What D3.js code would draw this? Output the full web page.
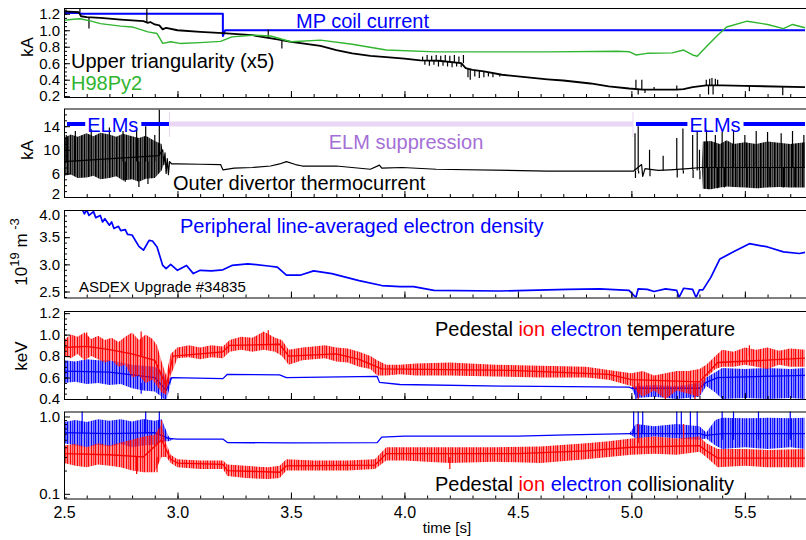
<!DOCTYPE html>
<html lang="en">
  <head>
    <meta charset="utf-8">
    <title>ASDEX Upgrade #34835</title>
    <style>
      body { margin: 0; background: #fff; }
      svg { display: block; font-family: "Liberation Sans", Arial, sans-serif; }
      .frame { fill: none; stroke: #000; stroke-width: 1; }
      .tick line { stroke: #000; }
      .tick text { font-size: 15px; fill: #000; }
      .note { font-size: 20px; }
      .trace { fill: none; stroke-linejoin: round; }
    </style>
  </head>
  <body>
    <svg id="chart" width="806" height="540"></svg>
    <script src="https://d3js.org/d3.v7.min.js"></script>
    <script>
      // ---- data ----
      // lines: [time s, value]; bands (noise envelope): [time s, low, high]; spikes: [time s, from, to]
      const mpCoil = [[2.5,1.21],[2.57,1.21],[2.575,1.2],[3.2,1.2],[3.2,0.93],[3.21,1.0],[5.765,1.0]];

      const triang = [[2.5,1.23],[2.565,1.22],[2.575,1.17],[2.6,1.16],[2.66,1.15],[2.7,1.14],[2.75,1.13],[2.8,1.12],
        [2.85,1.11],[2.87,1.09],[2.88,1.1],[2.9,1.07],[2.92,1.06],[2.935,1.01],[2.95,1.03],[3.0,1.0],[3.1,0.98],
        [3.2,0.965],[3.28,0.95],[3.33,0.94],[3.44,0.89],[3.5,0.86],[3.55,0.84],[3.63,0.81],[3.7,0.76],[3.77,0.72],
        [3.85,0.69],[3.92,0.675],[4.0,0.655],[4.07,0.635],[4.15,0.63],[4.25,0.6],[4.27,0.54],[4.3,0.52],[4.35,0.5],
        [4.43,0.46],[4.5,0.44],[4.63,0.405],[4.7,0.39],[4.82,0.354],[4.9,0.32],[4.99,0.293],[5.05,0.28],[5.2,0.28],
        [5.23,0.285],[5.27,0.31],[5.33,0.33],[5.4,0.33],[5.5,0.325],[5.765,0.31]];
      const triangSpikes = [[2.57,1.22,1.29],[2.61,1.16,1.02],[2.865,1.1,1.29],[3.4,0.91,1.01],[3.46,0.88,0.78],
        [4.08,0.63,0.68],[4.09,0.63,0.58],[4.1,0.63,0.7],[4.11,0.63,0.57],[4.12,0.63,0.69],[4.13,0.63,0.58],
        [4.14,0.63,0.7],[4.15,0.63,0.56],[4.16,0.63,0.69],[4.17,0.63,0.57],[4.18,0.62,0.7],[4.19,0.62,0.56],
        [4.2,0.62,0.69],[4.21,0.61,0.55],[4.22,0.61,0.7],[4.23,0.61,0.56],[4.24,0.6,0.68],[4.25,0.6,0.55],
        [4.26,0.6,0.7],[4.28,0.53,0.43],[4.29,0.53,0.4],[4.31,0.52,0.44],[4.33,0.51,0.42],[4.35,0.5,0.43],
        [4.37,0.49,0.44],[4.39,0.48,0.43],[4.42,0.47,0.44],[5.02,0.29,0.4],[5.03,0.29,0.22],[5.046,0.28,0.4],
        [5.06,0.28,0.24],[5.1,0.28,0.31],[5.2,0.28,0.33],[5.33,0.33,0.4],[5.34,0.33,0.22],[5.345,0.33,0.41],
        [5.355,0.33,0.42],[5.36,0.33,0.22],[5.37,0.33,0.41],[5.38,0.33,0.4],[5.52,0.325,0.26],[5.667,0.32,0.21]];

      const h98 = [[2.5,1.12],[2.53,1.13],[2.57,1.14],[2.62,1.11],[2.66,1.08],[2.75,1.05],[2.8,1.04],[2.87,0.98],
        [2.91,0.96],[2.935,0.84],[2.97,0.86],[3.01,0.84],[3.1,0.85],[3.19,0.865],[3.24,0.92],[3.33,0.94],[3.41,0.93],
        [3.5,0.86],[3.63,0.88],[3.77,0.83],[3.92,0.76],[4.14,0.737],[4.63,0.737],[4.94,0.745],[4.99,0.74],[5.02,0.7],
        [5.07,0.72],[5.18,0.725],[5.23,0.76],[5.27,0.7],[5.29,0.685],[5.33,0.8],[5.38,0.94],[5.42,1.04],[5.51,1.11],
        [5.6,1.07],[5.67,1.02],[5.71,1.07],[5.765,1.03]];

      const divBand = [[2.5,5.6,12],[2.53,5.8,12.6],[2.56,5.2,12.2],[2.6,5.3,12.8],[2.63,5.6,12.3],[2.66,5.0,12.9],
        [2.7,5.2,12.6],[2.73,5.5,12.2],[2.76,4.8,12.7],[2.8,5.0,12.3],[2.83,4.6,12.0],[2.86,5.1,12.4],[2.9,5.2,11.5],
        [2.93,6.5,11],[2.94,7.6,7.6],[5.31,7,7],[5.315,3.4,11.4],[5.35,3.3,11.5],[5.39,3.6,11],[5.42,3.8,11.6],
        [5.45,3.7,11],[5.5,3.6,11.3],[5.55,3.5,11],[5.6,3.6,11.4],[5.65,3.7,11.2],[5.7,3.6,11],[5.765,3.6,11.3]];
      const divCurrent = [[2.5,8],[2.918,9],[2.935,10],[2.94,7.5],[2.945,9.5],[2.95,6],[2.955,8.5],[2.96,5.8],
        [2.965,8],[2.975,7.6],[3.0,7.6],[3.1,7.55],[3.19,7.5],[3.2,6.6],[3.25,6.9],[3.33,7.0],[3.41,7.25],[3.45,7.6],
        [3.48,8.0],[3.52,7.5],[3.55,7.25],[3.7,7.25],[3.85,6.7],[3.89,7.4],[3.9,6.9],[3.99,7.0],[4.14,6.7],[4.63,6.4],
        [5.01,6.4],[5.045,7.5],[5.05,5.5],[5.06,6.8],[5.1,6.6],[5.12,6.5],[5.17,6.6],[5.25,6.8],[5.31,7],[5.765,7]];
      const divSpikes = [[2.51,8,12.5],[2.55,8,13.2],[2.62,8,13.5],[2.7,8,13.8],[2.76,8,13.2],[2.77,8,4.6],
        [2.82,8,13.5],[2.83,8,3.7],[2.86,8,14],[2.87,8,4.2],[2.9,8,12.5],[2.92,9,16.8],[5.016,6.4,12.8],[5.018,6.4,5.2],
        [5.03,6.4,14],[5.032,6.4,6],[5.08,6.6,10],[5.082,6.6,5.5],[5.14,6.5,9],[5.2,6.6,12],[5.202,6.6,5.3],
        [5.227,6.5,13.6],[5.229,6.5,6],[5.27,6.6,12.5],[5.272,6.6,5.2],[5.29,6.5,13.2],[5.3,6.5,10],[5.302,6.5,5],
        [5.331,7,13.4],[5.341,7,3.3],[5.37,7,12.5],[5.38,7,3.5],[5.4,7,13],[5.41,7,3.6],[5.45,7,13.3],[5.46,7,3.7],
        [5.5,7,12.5],[5.51,7,3.7],[5.55,7,13.2],[5.56,7,3.5],[5.6,7,13],[5.61,7,3.8],[5.66,7,12.8],[5.67,7,3.6],
        [5.71,7,13.2],[5.72,7,3.7],[5.76,7,12.5]];

      const density = [[2.5,4.35],[2.55,4.1],[2.57,4.0],[2.58,4.02],[2.59,3.93],[2.6,4.0],[2.61,3.9],[2.63,3.97],
        [2.64,3.86],[2.66,3.9],[2.67,3.78],[2.68,3.84],[2.7,3.72],[2.71,3.78],[2.72,3.66],[2.74,3.7],[2.75,3.62],
        [2.77,3.64],[2.78,3.55],[2.8,3.54],[2.83,3.33],[2.85,3.26],[2.875,3.44],[2.89,3.43],[2.91,3.32],[2.935,2.98],
        [2.95,2.92],[2.97,3.0],[3.0,2.89],[3.04,2.98],[3.07,2.83],[3.1,2.89],[3.15,2.88],[3.2,2.9],[3.24,2.98],
        [3.31,3.01],[3.4,2.97],[3.44,2.95],[3.48,2.8],[3.54,2.8],[3.6,2.88],[3.68,2.83],[3.8,2.7],[3.9,2.61],
        [3.98,2.59],[4.04,2.59],[4.13,2.52],[4.42,2.51],[4.72,2.54],[4.86,2.55],[4.99,2.52],[5.02,2.39],[5.03,2.55],
        [5.07,2.54],[5.1,2.5],[5.15,2.55],[5.2,2.52],[5.21,2.39],[5.23,2.56],[5.27,2.54],[5.285,2.39],[5.3,2.53],
        [5.315,2.53],[5.35,2.76],[5.39,3.1],[5.45,3.23],[5.52,3.38],[5.6,3.32],[5.67,3.23],[5.74,3.2],[5.765,3.22]];

      const ionTBand = [[2.5,0.8,0.95],[2.53,0.78,1.0],[2.56,0.82,0.98],[2.59,0.76,1.02],[2.62,0.8,0.96],
        [2.65,0.77,0.99],[2.68,0.74,0.95],[2.71,0.76,0.97],[2.74,0.7,0.93],[2.77,0.72,0.98],[2.8,0.6,1.02],
        [2.83,0.62,0.95],[2.86,0.55,1.0],[2.89,0.58,0.96],[2.91,0.52,0.9],[2.93,0.46,0.75],[2.95,0.44,0.62],
        [2.97,0.62,0.82],[3.0,0.78,0.88],[3.05,0.79,0.9],[3.1,0.77,0.88],[3.15,0.79,0.9],[3.2,0.78,0.89],
        [3.23,0.84,0.95],[3.28,0.86,0.98],[3.33,0.84,0.97],[3.38,0.86,1.03],[3.43,0.84,0.97],[3.46,0.8,0.95],
        [3.49,0.72,0.86],[3.55,0.76,0.88],[3.6,0.77,0.89],[3.65,0.78,0.9],[3.7,0.75,0.88],[3.75,0.74,0.87],
        [3.8,0.7,0.84],[3.85,0.68,0.8],[3.88,0.62,0.76],[3.92,0.62,0.72],[3.98,0.63,0.72],[4.05,0.62,0.73],
        [4.2,0.62,0.74],[4.4,0.61,0.72],[4.6,0.6,0.71],[4.8,0.6,0.7],[4.9,0.58,0.67],[5.0,0.52,0.64],[5.05,0.42,0.66],
        [5.1,0.48,0.62],[5.15,0.4,0.64],[5.2,0.48,0.66],[5.25,0.45,0.66],[5.3,0.42,0.68],[5.33,0.6,0.72],
        [5.37,0.68,0.8],[5.4,0.7,0.86],[5.45,0.7,0.84],[5.5,0.72,0.88],[5.55,0.7,0.86],[5.6,0.68,0.88],
        [5.65,0.72,0.85],[5.7,0.7,0.87],[5.765,0.7,0.86]];
      const ionT = [[2.5,0.88],[2.6,0.89],[2.7,0.86],[2.8,0.82],[2.9,0.76],[2.95,0.52],[2.98,0.8],[3.2,0.84],
        [3.23,0.9],[3.45,0.91],[3.49,0.8],[3.7,0.82],[3.8,0.77],[3.9,0.68],[4.5,0.665],[4.9,0.63],[5.0,0.58],
        [5.3,0.56],[5.38,0.74],[5.765,0.78]];
      const ionTSpikes = [[2.6,0.9,1.02],[2.84,0.8,1.03],[3.4,0.9,1.04],[5.03,0.55,0.4],[5.15,0.55,0.4],
        [5.28,0.55,0.4],[5.52,0.8,0.9]];

      const eleTBand = [[2.5,0.55,0.76],[2.55,0.56,0.75],[2.6,0.54,0.77],[2.65,0.55,0.76],[2.7,0.53,0.76],
        [2.75,0.54,0.74],[2.8,0.5,0.72],[2.85,0.48,0.71],[2.9,0.47,0.7],[2.93,0.42,0.66],[2.95,0.38,0.58],
        [2.965,0.5,0.6],[2.975,0.6,0.6],[5.0,0.51,0.51],[5.02,0.41,0.52],[5.1,0.42,0.53],[5.2,0.4,0.52],
        [5.3,0.42,0.55],[5.33,0.52,0.6],[5.37,0.46,0.65],[5.4,0.4,0.69],[5.5,0.41,0.68],[5.6,0.4,0.69],
        [5.7,0.41,0.68],[5.765,0.4,0.69]];
      const eleT = [[2.5,0.66],[2.7,0.65],[2.9,0.6],[2.95,0.48],[2.975,0.6],[3.2,0.59],[3.22,0.63],[3.45,0.625],
        [3.48,0.6],[3.88,0.61],[3.89,0.555],[3.98,0.535],[4.43,0.52],[4.99,0.51],[5.0,0.5],[5.3,0.5],[5.33,0.555],
        [5.38,0.6],[5.765,0.62]];
      const eleTSpikes = [[2.84,0.55,0.45],[2.93,0.5,0.38],[5.02,0.5,0.4],[5.18,0.5,0.41],[5.26,0.5,0.4]];

      const eleNuBand = [[2.5,0.45,0.85],[2.55,0.42,0.9],[2.6,0.4,0.85],[2.65,0.43,0.92],[2.7,0.41,0.88],
        [2.75,0.44,0.92],[2.8,0.4,0.86],[2.85,0.42,0.93],[2.9,0.43,0.88],[2.93,0.47,0.92],[2.96,0.48,0.56],
        [2.98,0.5,0.5],[4.99,0.6,0.6],[5.02,0.52,0.8],[5.1,0.55,0.75],[5.2,0.52,0.8],[5.3,0.5,0.75],[5.33,0.52,0.62],
        [5.37,0.42,0.9],[5.4,0.38,0.96],[5.5,0.4,0.95],[5.6,0.38,0.96],[5.7,0.4,0.95],[5.765,0.38,0.96]];
      const eleNu = [[2.5,0.62],[2.7,0.6],[2.9,0.62],[2.96,0.52],[3.0,0.51],[3.2,0.51],[3.22,0.46],[3.5,0.455],
        [3.88,0.46],[3.9,0.54],[4.0,0.556],[4.5,0.556],[4.72,0.58],[5.0,0.6],[5.3,0.6],[5.33,0.57],[5.4,0.6],
        [5.765,0.6]];
      const eleNuSpikes = [[2.58,0.6,1.2],[2.86,0.6,1.2],[2.92,0.6,1.2],[5.01,0.6,1.2],[5.03,0.6,1.2],[5.05,0.6,1.2],
        [5.2,0.6,1.2],[5.22,0.6,1.2],[5.26,0.6,1.2],[5.29,0.6,1.2],[5.4,0.5,1.2],[5.45,0.5,1.2],[5.56,0.5,1.2],
        [5.7,0.5,1.2]];

      const ionNuBand = [[2.5,0.25,0.42],[2.55,0.23,0.44],[2.6,0.22,0.4],[2.65,0.24,0.45],[2.7,0.23,0.42],
        [2.75,0.22,0.46],[2.8,0.2,0.5],[2.85,0.19,0.55],[2.9,0.19,0.58],[2.93,0.3,0.8],[2.95,0.3,0.45],
        [2.97,0.25,0.32],[3.0,0.22,0.28],[3.1,0.21,0.27],[3.2,0.21,0.27],[3.22,0.17,0.24],[3.3,0.16,0.23],
        [3.4,0.155,0.22],[3.45,0.16,0.23],[3.48,0.2,0.28],[3.6,0.2,0.27],[3.75,0.2,0.27],[3.87,0.21,0.28],
        [3.92,0.27,0.4],[4.0,0.27,0.4],[4.2,0.25,0.4],[4.4,0.26,0.4],[4.6,0.25,0.41],[4.8,0.28,0.45],[4.9,0.3,0.48],
        [5.0,0.32,0.52],[5.1,0.33,0.55],[5.2,0.32,0.52],[5.3,0.35,0.55],[5.33,0.3,0.45],[5.38,0.22,0.38],
        [5.5,0.23,0.38],[5.6,0.22,0.37],[5.765,0.22,0.38]];
      const ionNu = [[2.5,0.33],[2.7,0.32],[2.85,0.3],[2.93,0.5],[2.97,0.28],[3.0,0.25],[3.2,0.24],[3.22,0.2],
        [3.45,0.19],[3.48,0.23],[3.87,0.235],[3.92,0.33],[4.5,0.33],[4.8,0.36],[5.0,0.4],[5.3,0.42],[5.33,0.36],
        [5.38,0.29],[5.765,0.29]];
      const ionNuSpikes = [[2.82,0.3,0.18],[2.91,0.3,0.19],[2.93,0.5,0.89],[4.2,0.3,0.21],[5.03,0.45,0.8],
        [5.23,0.45,0.8]];

      // ELM phases: [start, end, label]
      const elmPhases = [[2.5, 2.965, "ELMs"], [2.965, 5.007, "ELM suppression"], [5.007, 5.765, "ELMs"]];
      const xTickLabels = [2.5, 3.0, 3.5, 4.0, 4.5, 5.0, 5.5];

      const svg = d3.select("#chart");
      const x = d3.scaleLinear().domain([2.5, 5.765]).range([64, 805]);
      const blue = "#0000ff", red = "#ff0000", green = "#2fb52f", purple = "#a56fd6", lav = "#ead6f7";

      // uneven striped fills give the dense-noise look of the sampled signals
      const defs = svg.append("defs");
      const hatch = (id, color, stripes) => {
        const pt = defs.append("pattern").attr("id", id).attr("patternUnits", "userSpaceOnUse")
          .attr("width", 7).attr("height", 10);
        stripes.forEach(([sx, sw]) => pt.append("rect").attr("x", sx).attr("width", sw).attr("height", 10).attr("fill", color));
      };
      hatch("h-black", "#000", [[0, 1.6], [2.2, 1.4], [4, 1.8], [6.2, 0.6]]);
      hatch("h-red", red, [[0, 1.4], [2.2, 1], [3.6, 1.5], [5.6, 0.8]]);
      hatch("h-blue", blue, [[0, 1.4], [2.2, 1], [3.6, 1.5], [5.6, 0.8]]);

      const panels = [
        {top: 8, bottom: 97, y: d3.scaleLinear().domain([0.19, 1.27]), major: d3.range(0.2, 1.21, 0.2), minor: d3.range(0.2, 1.26, 0.05), fmt: d3.format(".1f")},
        {top: 108.5, bottom: 197, y: d3.scaleLinear().domain([2, 17]), major: [2, 6, 10, 14], minor: d3.range(2, 17, 1), fmt: d3.format("d")},
        {top: 210, bottom: 297.5, y: d3.scaleLinear().domain([2.39, 4.0]), major: [2.5, 3.0, 3.5, 4.0], minor: d3.range(2.4, 4.01, 0.1), fmt: d3.format(".1f")},
        {top: 311, bottom: 399, y: d3.scaleLinear().domain([0.4, 1.22]), major: d3.range(0.4, 1.21, 0.2), minor: d3.range(0.4, 1.21, 0.05), fmt: d3.format(".1f")},
        {top: 411.5, bottom: 498.5, y: d3.scaleLog().domain([0.087, 1.16]), major: [0.1, 1.0], minor: [0.09, 0.2, 0.3, 0.4, 0.5, 0.6, 0.7, 0.8, 0.9], fmt: d3.format(".1f")}
      ];

      panels.forEach((p, i) => {
        p.y.range([p.bottom, p.top]);
        const clipId = "clip" + i;
        svg.append("clipPath").attr("id", clipId).append("rect")
          .attr("x", 64).attr("y", p.top).attr("width", 742).attr("height", p.bottom - p.top);
        p.g = svg.append("g").attr("clip-path", `url(#${clipId})`);

        // minor + major ticks, pointing inward
        svg.append("g").attr("transform", `translate(0,${p.bottom})`)
          .call(d3.axisBottom(x).tickValues(d3.range(2.5, 5.76, 0.1)).tickSize(-3).tickFormat(""))
          .call(g => g.select(".domain").remove());
        const xa = svg.append("g").attr("transform", `translate(0,${p.bottom})`)
          .call(d3.axisBottom(x).tickValues(xTickLabels).tickSize(-6).tickPadding(8)
            .tickFormat(i === 4 ? d3.format(".1f") : ""))
          .call(g => g.select(".domain").remove());
        xa.selectAll("text").style("font-size", "16px");
        svg.append("g").attr("transform", "translate(64,0)")
          .call(d3.axisLeft(p.y).tickValues(p.minor).tickSize(-3).tickFormat(""))
          .call(g => g.select(".domain").remove());
        const ya = svg.append("g").attr("transform", "translate(64,0)")
          .call(d3.axisLeft(p.y).tickValues(p.major).tickSize(-6).tickPadding(4).tickFormat(p.fmt))
          .call(g => g.select(".domain").remove());
        // keep edge labels of neighbouring panels apart
        if (i === 2) ya.selectAll("text").filter(d => d === 4.0).attr("dy", "0.6em");
        if (i === 1) ya.selectAll("text").filter(d => d === 2).attr("dy", "0.1em");

        svg.append("rect").attr("class", "frame")
          .attr("x", 64.5).attr("y", p.top + 0.5).attr("width", 745).attr("height", p.bottom - p.top);
      });

      const draw = (p, data, color, w) => p.g.append("path").datum(data).attr("class", "trace")
        .attr("stroke", color).attr("stroke-width", w)
        .attr("d", d3.line().x(d => x(d[0])).y(d => p.y(d[1])));
      const band = (p, data, fill) => p.g.append("path").datum(data).attr("fill", fill)
        .attr("d", d3.area().x(d => x(d[0])).y0(d => p.y(d[1])).y1(d => p.y(d[2])));
      const spikes = (p, data, color, w) => p.g.append("g").selectAll("line").data(data).join("line")
        .attr("x1", d => x(d[0])).attr("x2", d => x(d[0]))
        .attr("y1", d => p.y(d[1])).attr("y2", d => p.y(d[2]))
        .attr("stroke", color).attr("stroke-width", w);

      const [p1, p2, p3, p4, p5] = panels;

      // panel 1
      draw(p1, mpCoil, blue, 2);
      draw(p1, triang, "#000", 1.8);
      spikes(p1, triangSpikes, "#000", 1.2);
      draw(p1, h98, green, 1.4);
      svg.append("text").attr("class", "note").attr("x", 296).attr("y", 28).attr("fill", blue).text("MP coil current");
      svg.append("text").attr("class", "note").attr("x", 71).attr("y", 68).text("Upper triangularity (x5)");
      svg.append("text").attr("class", "note").attr("x", 71).attr("y", 90).attr("fill", green).text("H98Py2");

      // panel 2
      band(p2, divBand, "url(#h-black)");
      draw(p2, divCurrent, "#000", 1.2);
      spikes(p2, divSpikes, "#000", 1.2);
      const elmY = 124;
      elmPhases.forEach(([a, b, label]) => {
        if (label === "ELMs") {
          const cx = (x(a) + x(b)) / 2 - 4;
          const t = svg.append("text").attr("class", "note").attr("fill", blue)
            .attr("text-anchor", "middle").attr("x", cx).attr("y", 131.5).text(label);
          const len = t.node().getComputedTextLength();
          svg.append("line").attr("x1", x(a) + 3).attr("x2", cx - len / 2 - 2).attr("y1", elmY).attr("y2", elmY)
            .attr("stroke", blue).attr("stroke-width", 4);
          svg.append("line").attr("x1", cx + len / 2 + 3).attr("x2", x(b)).attr("y1", elmY).attr("y2", elmY)
            .attr("stroke", blue).attr("stroke-width", 4);
        } else {
          svg.append("line").attr("x1", x(a)).attr("x2", x(b)).attr("y1", elmY).attr("y2", elmY)
            .attr("stroke", lav).attr("stroke-width", 5);
          [a, b].forEach(t => svg.append("line").attr("x1", x(t)).attr("x2", x(t)).attr("y1", 112).attr("y2", 137)
            .attr("stroke", lav).attr("stroke-width", 1));
          svg.append("text").attr("class", "note").attr("fill", purple).attr("text-anchor", "middle")
            .attr("x", 406).attr("y", 149).text(label);
        }
      });
      svg.append("text").attr("class", "note").attr("x", 173).attr("y", 190).text("Outer divertor thermocurrent");

      // panel 3
      draw(p3, density, blue, 1.7);
      svg.append("text").attr("class", "note").attr("x", 180).attr("y", 233).attr("fill", blue)
        .text("Peripheral line-averaged electron density");
      svg.append("text").attr("x", 79).attr("y", 291.5).style("font-size", "15px").text("ASDEX Upgrade #34835");

      // panel 4
      band(p4, eleTBand, "url(#h-blue)");
      draw(p4, eleT, blue, 1.3);
      spikes(p4, eleTSpikes, blue, 1.2);
      band(p4, ionTBand, "url(#h-red)");
      draw(p4, ionT, red, 1.3);
      spikes(p4, ionTSpikes, red, 1.2);

      // panel 5
      band(p5, eleNuBand, "url(#h-blue)");
      draw(p5, eleNu, blue, 1.3);
      spikes(p5, eleNuSpikes, blue, 1.2);
      band(p5, ionNuBand, "url(#h-red)");
      draw(p5, ionNu, red, 1.3);
      spikes(p5, ionNuSpikes, red, 1.2);

      const legend = (yy, last) => {
        const t = svg.append("text").attr("class", "note").attr("x", 435).attr("y", yy);
        t.append("tspan").text("Pedestal ");
        t.append("tspan").attr("fill", red).text("ion");
        t.append("tspan").attr("fill", blue).text(" electron");
        t.append("tspan").text(" " + last);
      };
      legend(336, "temperature");
      legend(490.5, "collisionality");

      // axis titles
      const ylab = (xx, yy) => svg.append("text").attr("transform", `translate(${xx},${yy}) rotate(-90)`)
        .attr("text-anchor", "middle").style("font-size", "17px");
      ylab(33, 47).text("kA");
      ylab(33, 150).text("kA");
      const dl = ylab(27, 252);
      dl.append("tspan").text("10");
      dl.append("tspan").attr("dy", -8).style("font-size", "13px").text("19");
      dl.append("tspan").attr("dy", 8).text(" m");
      dl.append("tspan").attr("dy", -8).style("font-size", "13px").text(" -3");
      ylab(27, 356).text("keV");
      svg.append("text").attr("x", 447).attr("y", 533).attr("text-anchor", "middle")
        .style("font-size", "15px").text("time [s]");
    </script>
  </body>
</html>
